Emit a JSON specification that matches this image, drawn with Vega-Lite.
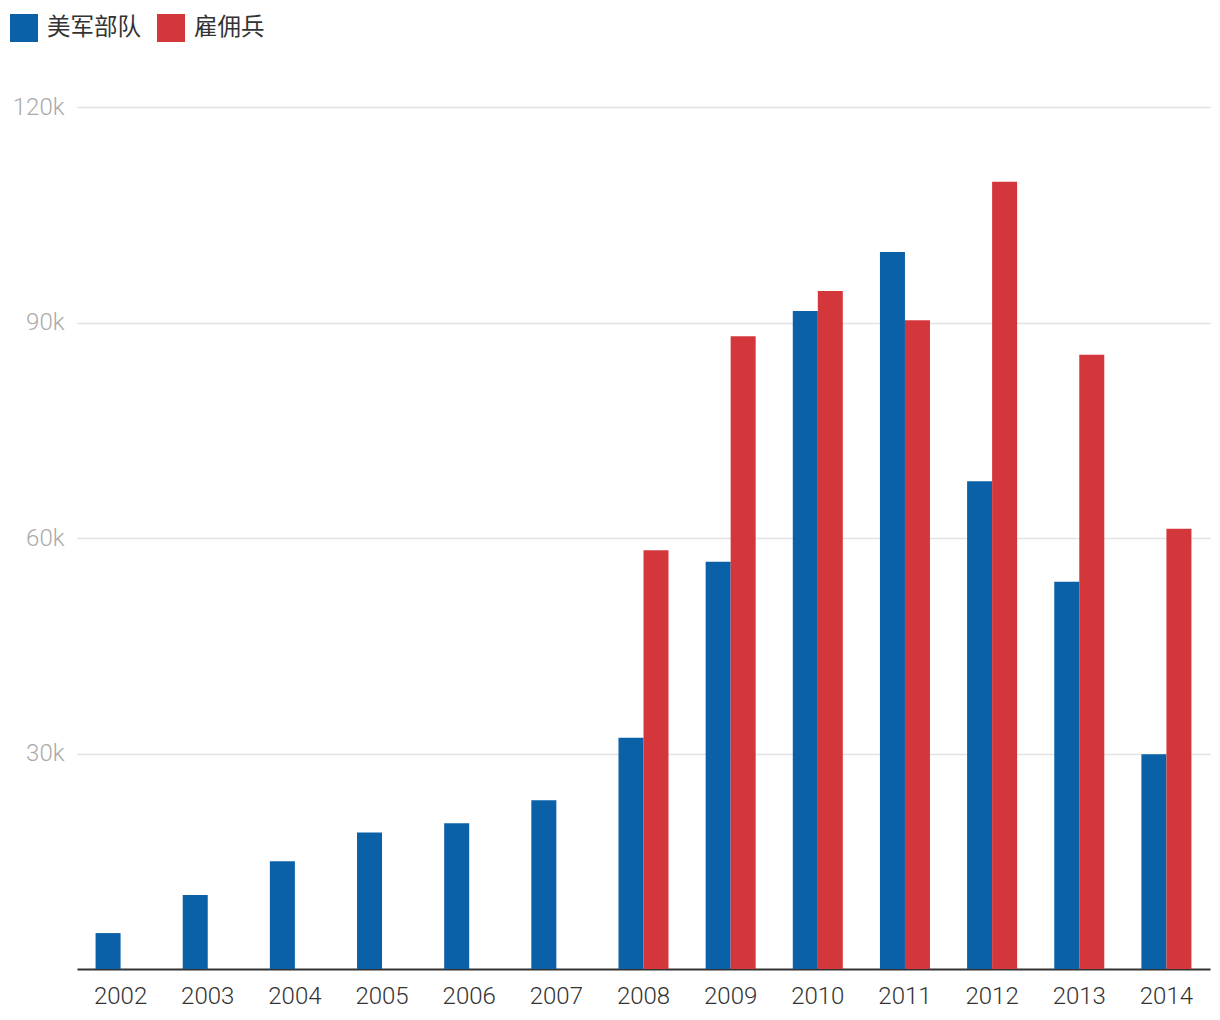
{
  "$schema": "https://vega.github.io/schema/vega-lite/v6.json",
  "width": 1133,
  "height": 862,
  "autosize": "none",
  "padding": {"left": 77, "top": 107, "right": 10, "bottom": 51},
  "background": "white",
  "config": {"view": {"stroke": null}, "font": "Roboto"},
  "data": {
    "values": [
      {"year": "2002", "series": "美军部队", "value": 5000},
      {"year": "2003", "series": "美军部队", "value": 10300},
      {"year": "2004", "series": "美军部队", "value": 15000},
      {"year": "2005", "series": "美军部队", "value": 19000},
      {"year": "2006", "series": "美军部队", "value": 20300},
      {"year": "2007", "series": "美军部队", "value": 23500},
      {"year": "2008", "series": "美军部队", "value": 32200},
      {"year": "2008", "series": "雇佣兵", "value": 58300},
      {"year": "2009", "series": "美军部队", "value": 56700},
      {"year": "2009", "series": "雇佣兵", "value": 88100},
      {"year": "2010", "series": "美军部队", "value": 91600},
      {"year": "2010", "series": "雇佣兵", "value": 94400},
      {"year": "2011", "series": "美军部队", "value": 99800},
      {"year": "2011", "series": "雇佣兵", "value": 90300},
      {"year": "2012", "series": "美军部队", "value": 67900},
      {"year": "2012", "series": "雇佣兵", "value": 109600},
      {"year": "2013", "series": "美军部队", "value": 53900},
      {"year": "2013", "series": "雇佣兵", "value": 85500},
      {"year": "2014", "series": "美军部队", "value": 29900},
      {"year": "2014", "series": "雇佣兵", "value": 61300}
    ]
  },
  "mark": {"type": "bar"},
  "encoding": {
    "x": {
      "field": "year",
      "type": "nominal",
      "scale": {"paddingInner": 0.426, "paddingOuter": 0.213},
      "axis": {
        "title": null,
        "labelAngle": 0,
        "ticks": false,
        "domain": true,
        "domainColor": "#333333",
        "domainWidth": 2,
        "labelFontSize": 24,
        "labelFontWeight": 300,
        "labelColor": "#333333",
        "labelPadding": 15,
        "grid": false
      }
    },
    "xOffset": {"field": "series", "type": "nominal", "scale": {"domain": ["美军部队", "雇佣兵"]}},
    "y": {
      "field": "value",
      "type": "quantitative",
      "scale": {"domain": [0, 120000], "nice": false},
      "axis": {
        "title": null,
        "values": [30000, 60000, 90000, 120000],
        "labelExpr": "datum.value / 1000 + 'k'",
        "domain": false,
        "ticks": false,
        "labelFontSize": 24,
        "labelFontWeight": 300,
        "labelColor": "#aaaaaa",
        "labelPadding": 13,
        "gridColor": "#e3e3e3",
        "gridWidth": 1.5
      }
    },
    "color": {
      "field": "series",
      "type": "nominal",
      "scale": {"domain": ["美军部队", "雇佣兵"], "range": ["#0a61a8", "#d4373b"]},
      "legend": {
        "title": null,
        "orient": "none",
        "legendX": -67,
        "legendY": -93,
        "direction": "horizontal",
        "symbolType": "square",
        "symbolSize": 784,
        "symbolStrokeWidth": 0,
        "labelFontSize": 23.5,
        "labelColor": "#333333",
        "labelFont": "Noto Sans CJK SC",
        "labelOffset": 9,
        "columnPadding": 16
      }
    }
  }
}
